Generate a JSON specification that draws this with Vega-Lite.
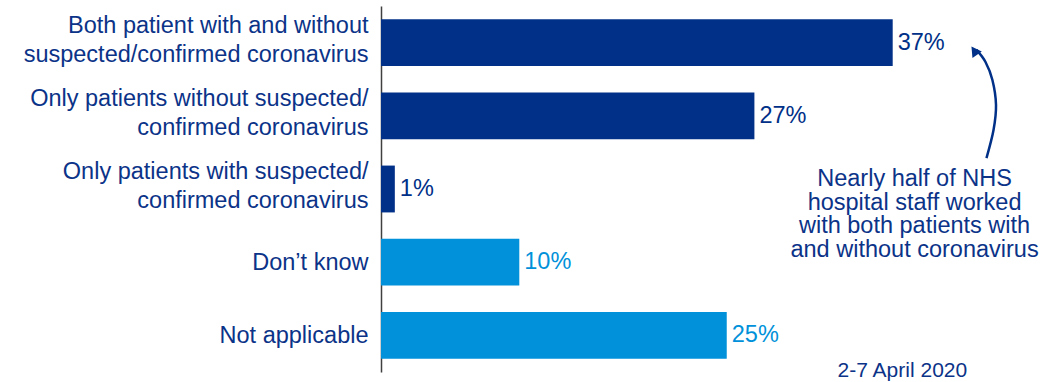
{
  "$schema": "https://vega.github.io/schema/vega-lite/v6.json",
  "width": 650,
  "height": 366,
  "autosize": {"type": "none"},
  "padding": {"left": 381, "top": 6, "right": 13, "bottom": 10},
  "config": {"view": {"stroke": null}, "font": "Liberation Sans"},
  "layer": [
    {
      "data": {
        "values": [
          {"response": "Both patient with and without\nsuspected/confirmed coronavirus", "share": 0.37, "group": "Patients"},
          {"response": "Only patients without suspected/\nconfirmed coronavirus", "share": 0.27, "group": "Patients"},
          {"response": "Only patients with suspected/\nconfirmed coronavirus", "share": 0.01, "group": "Patients"},
          {"response": "Don’t know", "share": 0.10, "group": "Other"},
          {"response": "Not applicable", "share": 0.25, "group": "Other"}
        ]
      },
      "encoding": {
        "y": {
          "field": "response", "type": "nominal", "sort": null,
          "scale": {"paddingInner": 0.36, "paddingOuter": 0.18},
          "axis": {
            "title": null, "ticks": false, "grid": false,
            "domainColor": "#404040", "domainWidth": 1.5,
            "labelExpr": "split(datum.label, '\\n')",
            "labelFontSize": 23.5, "labelColor": "#0b3388",
            "labelLineHeight": 29, "labelPadding": 13, "labelLimit": 0,
            "labelAlign": "right", "labelBaseline": "middle",
            "labelOffset": {"expr": "indexof(datum.label, '\\n') >= 0 ? -17 : 1"}
          }
        },
        "x": {"field": "share", "type": "quantitative", "scale": {"domain": [0, 0.47]}, "axis": null},
        "color": {
          "field": "group", "type": "nominal", "legend": null,
          "scale": {"domain": ["Patients", "Other"], "range": ["#003087", "#0091da"]}
        }
      },
      "layer": [
        {"mark": {"type": "bar"}},
        {
          "mark": {"type": "text", "align": "left", "baseline": "middle", "dx": 5, "fontSize": 23.5},
          "encoding": {"text": {"field": "share", "type": "quantitative", "format": ".0%"}}
        }
      ]
    },
    {
      "layer": [
        {
          "data": {
            "values": [
              {"i": 1, "x": 0.4378, "y": 2.077},
              {"i": 2, "x": 0.4429, "y": 1.694},
              {"i": 3, "x": 0.4447, "y": 1.352},
              {"i": 4, "x": 0.4421, "y": 1.011},
              {"i": 5, "x": 0.4371, "y": 0.765},
              {"i": 6, "x": 0.4306, "y": 0.6}
            ]
          },
          "mark": {"type": "line", "interpolate": "cardinal", "color": "#003087", "strokeWidth": 2.5},
          "encoding": {
            "x": {"field": "x", "type": "quantitative", "scale": {"domain": [0, 0.47]}, "axis": null},
            "y": {"field": "y", "type": "quantitative", "scale": {"domain": [0, 5], "reverse": true}, "axis": null},
            "order": {"field": "i"}
          }
        },
        {
          "data": {"values": [{"x": 0.4290, "y": 0.61}]},
          "mark": {"type": "point", "shape": "triangle-up", "filled": true, "size": 130, "angle": 325, "color": "#003087", "opacity": 1},
          "encoding": {
            "x": {"field": "x", "type": "quantitative", "scale": {"domain": [0, 0.47]}, "axis": null},
            "y": {"field": "y", "type": "quantitative", "scale": {"domain": [0, 5], "reverse": true}, "axis": null}
          }
        },
        {
          "data": {"values": [{"x": 0.3858, "y": 2.37, "note": "Nearly half of NHS\nhospital staff worked\nwith both patients with\nand without coronavirus"}]},
          "mark": {"type": "text", "align": "center", "baseline": "middle", "lineBreak": "\n", "fontSize": 23.5, "lineHeight": 23.5, "color": "#0b3388"},
          "encoding": {
            "x": {"field": "x", "type": "quantitative", "scale": {"domain": [0, 0.47]}, "axis": null},
            "y": {"field": "y", "type": "quantitative", "scale": {"domain": [0, 5], "reverse": true}, "axis": null},
            "text": {"field": "note"}
          }
        },
        {
          "data": {"values": [{"x": 0.377, "y": 5.065, "note": "2-7 April 2020"}]},
          "mark": {"type": "text", "align": "center", "baseline": "alphabetic", "fontSize": 21, "color": "#0b3388"},
          "encoding": {
            "x": {"field": "x", "type": "quantitative", "scale": {"domain": [0, 0.47]}, "axis": null},
            "y": {"field": "y", "type": "quantitative", "scale": {"domain": [0, 5], "reverse": true}, "axis": null},
            "text": {"field": "note"}
          }
        }
      ]
    }
  ],
  "resolve": {"scale": {"y": "independent"}}
}
